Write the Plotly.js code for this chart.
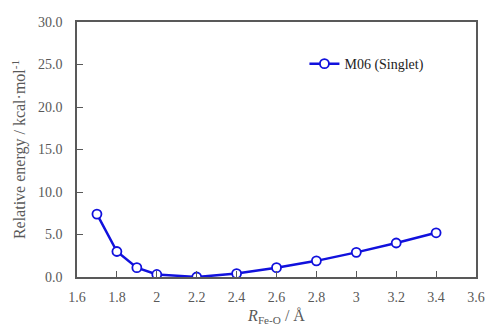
<!DOCTYPE html>
<html><head><meta charset="utf-8">
<script src="https://cdn.plot.ly/plotly-3.0.1.min.js"></script>
<style>body{margin:0;background:#fff}#c{width:487px;height:328px}</style>
</head><body><div id="c"></div>
<script>
const distance = [1.7, 1.8, 1.9, 2.0, 2.2, 2.4, 2.6, 2.8, 3.0, 3.2, 3.4];
const energyM06 = [7.4, 3.0, 1.1, 0.3, 0.0, 0.4, 1.1, 1.9, 2.9, 4.0, 5.2];
const seriesName = 'M06 (Singlet)';
const xTicks = [1.6, 1.8, 2, 2.2, 2.4, 2.6, 2.8, 3, 3.2, 3.4, 3.6];
const yTicks = [0, 5, 10, 15, 20, 25, 30];

const fam = "Tinos, 'Liberation Serif', 'DejaVu Serif', serif";
Plotly.newPlot('c', [{
  x: distance, y: energyM06, name: seriesName, type: 'scatter', mode: 'lines+markers',
  line: {color: '#1111dd', width: 2.5},
  marker: {symbol: 'circle', size: 9, color: '#ffffff', line: {color: '#1111dd', width: 1.8}}
}], {
  width: 487, height: 328,
  margin: {l: 77, r: 11, t: 22, b: 51},
  paper_bgcolor: '#fff', plot_bgcolor: '#fff',
  font: {family: fam, size: 14, color: '#595959'},
  showlegend: true,
  legend: {x: 0.57, y: 0.835, xanchor: 'left', yanchor: 'middle', bgcolor: 'rgba(0,0,0,0)',
    itemwidth: 30, font: {family: fam, size: 14, color: '#222'}},
  xaxis: {range: [1.6, 3.6], tickvals: xTicks, ticktext: xTicks.map(String),
    ticks: 'inside', ticklen: 6, tickcolor: '#595959', showgrid: false, zeroline: false,
    showline: true, linecolor: '#595959', linewidth: 1.5, mirror: true,
    ticklabelstandoff: 6,
    tickfont: {family: fam, size: 14, color: '#595959'},
    title: {text: '<i>R</i><sub>Fe-O</sub> / Å', font: {family: fam, size: 16, color: '#595959'}, standoff: 6}},
  yaxis: {range: [0, 30], tickvals: yTicks, ticktext: yTicks.map(v => v.toFixed(1)),
    ticks: 'inside', ticklen: 6, tickcolor: '#595959', showgrid: false, zeroline: false,
    showline: true, linecolor: '#595959', linewidth: 1.5, mirror: true,
    ticklabelstandoff: 10,
    tickfont: {family: fam, size: 14, color: '#595959'},
    title: {text: 'Relative energy / kcal·mol<sup>-1</sup>', font: {family: fam, size: 16, color: '#595959'}, standoff: 8}}
}, {displayModeBar: false});
</script></body></html>
